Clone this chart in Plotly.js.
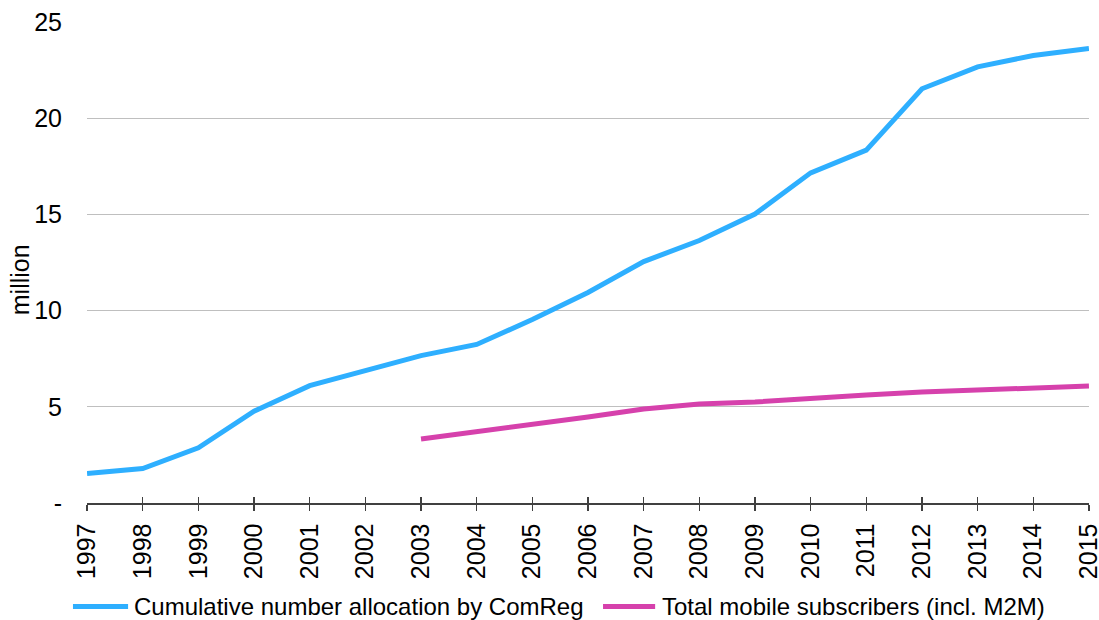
<!DOCTYPE html>
<html>
<head>
<meta charset="utf-8">
<script src="https://cdn.plot.ly/plotly-3.0.1.min.js"></script>
<style>
  html, body { margin: 0; padding: 0; background: #ffffff; }
  #chart { width: 1099px; height: 620px; }
</style>
</head>
<body>
<div id="chart"></div>
<script>
// Years on the category axis
const years = [1997, 1998, 1999, 2000, 2001, 2002, 2003, 2004, 2005, 2006,
               2007, 2008, 2009, 2010, 2011, 2012, 2013, 2014, 2015];
const yearLabels = years.map(String);

// Cumulative number allocation by ComReg (million)
const allocation = [1.53, 1.79, 2.87, 4.77, 6.10, 6.88, 7.66, 8.24, 9.54, 10.94,
                    12.55, 13.64, 15.02, 17.16, 18.34, 21.53, 22.67, 23.26, 23.62];

// Total mobile subscribers incl. M2M (million), reported from 2003
const subYears = [2003, 2004, 2005, 2006, 2007, 2008, 2009, 2010, 2011, 2012, 2013, 2014, 2015];
const subscribers = [3.33, 3.69, 4.10, 4.47, 4.89, 5.14, 5.25, 5.45, 5.61, 5.77, 5.86, 5.93, 6.08];

// Value-axis ticks
const yTicks = [0, 5, 10, 15, 20, 25];
const yTickText = ['-', '5', '10', '15', '20', '25'];

// Series names and colours
const seriesNames = ['Cumulative number allocation by ComReg', 'Total mobile subscribers (incl. M2M)'];
const seriesColors = ['#2EAFFF', '#D641AC'];

const FONT = 'Liberation Sans, Arial, sans-serif';
const FS = 24;
const X_RANGE = [1996.999, 2015.001];

const traces = [
  {
    x: years, y: allocation, type: 'scatter', mode: 'lines',
    name: seriesNames[0],
    line: { color: seriesColors[0], width: 5 }
  },
  {
    x: subYears, y: subscribers, type: 'scatter', mode: 'lines',
    name: seriesNames[1],
    line: { color: seriesColors[1], width: 5 }
  },
  // invisible carrier for the second x axis (inner tick marks)
  {
    x: years, y: allocation, type: 'scatter', mode: 'none',
    xaxis: 'x2', showlegend: false, hoverinfo: 'skip'
  }
];

// Legend row below the axis: key line + label for each series (paper coords)
const legendY = -0.215;
const legendKeys = [
  { x0: -0.014, x1: 0.041, tx: 0.045 },
  { x0: 0.515, x1: 0.567, tx: 0.572 }
];
const legendShapes = legendKeys.map((k, i) => ({
  type: 'line', xref: 'paper', yref: 'paper',
  x0: k.x0, x1: k.x1, y0: legendY, y1: legendY,
  line: { color: seriesColors[i], width: 5 }
}));
const legendLabels = legendKeys.map((k, i) => ({
  text: seriesNames[i], xref: 'paper', yref: 'paper',
  x: k.tx, y: legendY, xanchor: 'left', yanchor: 'middle',
  showarrow: false, font: { family: FONT, size: FS, color: '#000000' }
}));

const layout = {
  width: 1099, height: 620,
  paper_bgcolor: '#ffffff', plot_bgcolor: '#ffffff',
  margin: { l: 87, r: 10, t: 22, b: 116.5 },
  font: { family: FONT, size: FS, color: '#000000' },
  showlegend: false,
  xaxis: {
    range: X_RANGE, automargin: false,
    tickmode: 'array', tickvals: years, ticktext: yearLabels,
    tickangle: -90, ticklabeloverflow: 'allow',
    ticks: 'outside', ticklen: 6, tickwidth: 1.3, tickcolor: '#404040',
    showline: true, linecolor: '#404040', linewidth: 1.5,
    showgrid: false, zeroline: false,
    tickfont: { family: FONT, size: 25, color: '#000000' },
    ticklabelstandoff: 3
  },
  xaxis2: {
    overlaying: 'x', anchor: 'y', side: 'bottom', automargin: false,
    range: X_RANGE,
    tickmode: 'array', tickvals: years,
    ticks: 'inside', ticklen: 6, tickwidth: 1.3, tickcolor: '#404040',
    showticklabels: false, showline: false, showgrid: false, zeroline: false
  },
  yaxis: {
    range: [0, 25], automargin: false,
    tickmode: 'array', tickvals: yTicks, ticktext: yTickText,
    ticks: '', showline: false, zeroline: false,
    showgrid: true, gridcolor: '#BFBFBF', gridwidth: 1,
    tickfont: { family: FONT, size: 25, color: '#000000' },
    ticklabelstandoff: 24
  },
  shapes: legendShapes,
  annotations: [
    {
      text: 'million', xref: 'paper', yref: 'paper',
      x: -0.067, y: 0.465, xanchor: 'center', yanchor: 'middle',
      textangle: -90, showarrow: false,
      font: { family: FONT, size: 25, color: '#000000' }
    }
  ].concat(legendLabels)
};

Plotly.newPlot('chart', traces, layout, { staticPlot: true, displayModeBar: false });
</script>
</body>
</html>
